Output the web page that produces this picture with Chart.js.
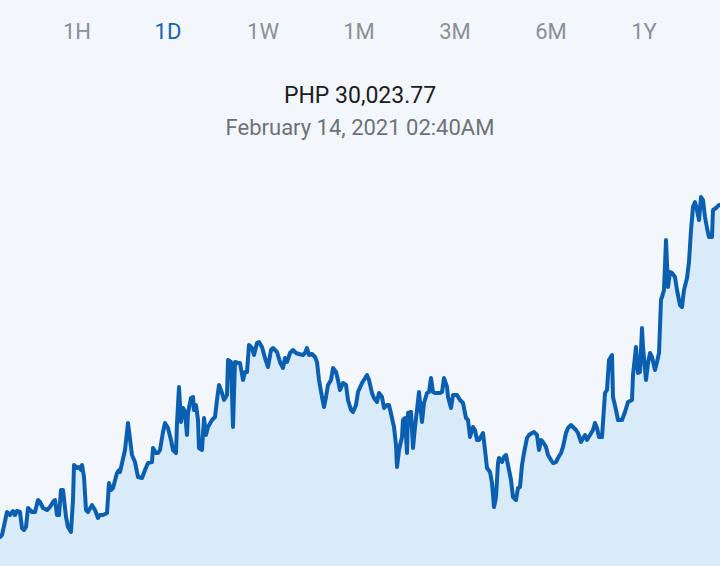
<!DOCTYPE html>
<html>
<head>
<meta charset="utf-8">
<script src="https://cdn.jsdelivr.net/npm/chart.js@4.4.1/dist/chart.umd.min.js"></script>
<style>
    html, body { margin: 0; padding: 0; }
    body {
        width: 720px;
        height: 566px;
        background: #f3f7fb;
        font-family: Roboto, 'Noto Sans', sans-serif;
        position: relative;
        overflow: hidden;
    }
    .tab {
        position: absolute;
        top: 17px;
        transform: translateX(-50%);
        font-size: 22px;
        color: #8b9097;
        line-height: 30px;
    }
    .tab.active { color: #1463b3; }
    #price {
        position: absolute;
        top: 81px;
        width: 720px;
        text-align: center;
        font-size: 23px;
        color: #1b1c1e;
        line-height: 30px;
    }
    #stamp {
        position: absolute;
        top: 113px;
        width: 720px;
        text-align: center;
        font-size: 22px;
        color: #6d7279;
        line-height: 30px;
    }
    #priceChart { position: absolute; left: 0; top: 150px; }
</style>
</head>
<body>
<div id="tabs"></div>
<div id="price"></div>
<div id="stamp"></div>
<canvas id="priceChart" width="720" height="416"></canvas>
<script>
const RANGE_TABS = ['1H', '1D', '1W', '1M', '3M', '6M', '1Y'];
const ACTIVE_TAB = '1D';
const CURRENT_PRICE = 'PHP 30,023.77';
const CURRENT_TIME = 'February 14, 2021 02:40AM';

// minutes since 02:40AM the day before
const minutes = [
    0, 4, 14, 20, 26, 30, 34, 40, 44, 48, 52, 56, 64, 70, 76, 80, 86, 94, 100, 106, 110, 114, 118, 122, 126,
    132, 136, 142, 146, 148, 154, 158, 162, 164, 168, 172, 176, 184, 190, 196, 200, 206, 214, 218, 222, 226, 234, 238,
    240, 250, 256, 264, 270, 276, 284, 290, 296, 304, 306, 312, 316, 320, 326, 330, 336, 342, 346, 352,
    354, 358, 362, 366, 370, 374, 376, 382, 386, 388, 392, 396, 398, 404, 408, 412, 416, 424, 430, 434,
    438, 444, 448, 454, 456, 462, 466, 470, 476,
    480, 486, 490, 494, 498, 504, 508, 514, 518, 524, 530, 536, 542, 546, 554, 560, 566, 570, 574, 580,
    586, 592, 598, 606, 610, 614, 618, 624, 630, 634, 638, 644, 648, 652, 656, 662, 666, 672, 676, 680,
    686, 692, 696, 702, 706, 712, 716,
    724, 734, 738, 744, 748, 754, 758, 764, 768, 774, 778, 784, 788, 792, 794, 798, 804, 806, 810, 814,
    816, 822, 826, 830, 834, 838, 844, 848, 854, 858, 862, 866, 870, 874, 880, 884, 888, 894, 896, 902,
    906, 914, 920, 926, 932, 936, 940, 946, 950, 954, 958,
    966, 970, 974, 980, 984, 988, 992, 996, 998, 1004, 1008, 1012, 1016, 1022, 1026, 1032, 1036, 1040, 1044, 1048,
    1054, 1058, 1064, 1068, 1074, 1078, 1082, 1086, 1092, 1096, 1102, 1106, 1112, 1116, 1122, 1126, 1132, 1136, 1142, 1146,
    1152, 1156, 1162, 1166, 1170, 1174, 1180, 1186, 1190, 1194, 1198,
    1204, 1210, 1214, 1218, 1224, 1226, 1232, 1236, 1244, 1250, 1256, 1264, 1266, 1272, 1276, 1280, 1284, 1286, 1292, 1296,
    1300, 1304, 1310, 1314, 1318, 1322, 1324, 1328, 1332, 1336, 1340, 1344, 1350, 1354, 1360, 1364, 1368, 1374, 1378, 1382,
    1386, 1390, 1394, 1398, 1402, 1406, 1410, 1414, 1418, 1424, 1426, 1432, 1438, 1440,
];

const prices = [
    28696, 28704, 28796, 28784, 28800, 28784, 28800, 28796, 28732, 28724, 28736, 28812, 28796, 28796, 28844, 28836, 28812, 28804, 28816, 28836, 28844, 28784, 28784, 28884, 28884,
    28776, 28736, 28716, 28844, 28984, 28972, 28976, 28964, 28984, 28936, 28804, 28796, 28824, 28804, 28772, 28784, 28784, 28792, 28912, 28884, 28892, 28952, 28964,
    28956, 29044, 29152, 29024, 28996, 28936, 28932, 28964, 28992, 28996, 29052, 29032, 29032, 29044, 29116, 29152, 29132, 29084, 29044, 29032,
    29152, 29296, 29156, 29212, 29196, 29104, 29192, 29252, 29256, 29204, 29224, 29164, 29052, 29044, 29172, 29104, 29136, 29164, 29176, 29244,
    29304, 29272, 29244, 29264, 29404, 29396, 29136, 29396, 29392,
    29392, 29324, 29356, 29356, 29464, 29452, 29424, 29472, 29476, 29456, 29412, 29376, 29444, 29452, 29436, 29396, 29372, 29412, 29396, 29432,
    29444, 29432, 29428, 29424, 29432, 29452, 29424, 29428, 29416, 29396, 29324, 29256, 29216, 29256, 29304, 29324, 29372, 29356, 29324, 29284,
    29312, 29304, 29244, 29204, 29196, 29224, 29276,
    29312, 29344, 29324, 29272, 29252, 29236, 29272, 29256, 29212, 29224, 29224, 29172, 29136, 29064, 28976, 29044, 29096, 29164, 29172, 29032,
    29192, 29196, 29052, 29136, 29204, 29276, 29156, 29232, 29272, 29276, 29332, 29276, 29272, 29272, 29272, 29276, 29332, 29296, 29256, 29212,
    29264, 29264, 29244, 29232, 29172, 29164, 29096, 29136, 29124, 29084, 29084,
    29112, 29044, 28972, 28956, 28912, 28816, 28856, 28992, 29012, 28996, 29016, 29024, 28984, 28924, 28856, 28844, 28892, 28896, 28984, 29032,
    29092, 29104, 29112, 29116, 29104, 29044, 29084, 29076, 29056, 29024, 29004, 28992, 28996, 29012, 29032, 29056, 29112, 29132, 29144, 29136,
    29124, 29112, 29076, 29092, 29104, 29084, 29104, 29124, 29152, 29132, 29096,
    29096, 29272, 29284, 29404, 29424, 29256, 29204, 29164, 29164, 29196, 29236, 29244, 29344, 29456, 29352, 29356, 29532, 29456, 29324, 29392,
    29432, 29416, 29364, 29396, 29432, 29644, 29656, 29684, 29884, 29696, 29756, 29752, 29736, 29684, 29624, 29616, 29684, 29732, 29796, 29924,
    30016, 30036, 30004, 29964, 30056, 30044, 29976, 29932, 29896, 29896, 30004, 30012, 30024, 30023.77,
];

const TAB_CENTERS = [77, 168, 263, 359, 455, 551, 644];

const tabsEl = document.getElementById('tabs');
RANGE_TABS.forEach((label, i) => {
    const el = document.createElement('div');
    el.className = 'tab' + (label === ACTIVE_TAB ? ' active' : '');
    el.style.left = TAB_CENTERS[i] + 'px';
    el.textContent = label;
    tabsEl.appendChild(el);
});
document.getElementById('price').textContent = CURRENT_PRICE;
document.getElementById('stamp').textContent = CURRENT_TIME;

const ctx = document.getElementById('priceChart').getContext('2d');
new Chart(ctx, {
    type: 'line',
    data: {
        datasets: [{
            data: minutes.map((m, i) => ({ x: m, y: prices[i] })),
            borderColor: '#0b5fb1',
            borderWidth: 4,
            borderJoinStyle: 'round',
            borderCapStyle: 'round',
            backgroundColor: '#d9eaf8',
            fill: 'start',
            pointRadius: 0,
            tension: 0,
        }],
    },
    options: {
        responsive: false,
        animation: false,
        devicePixelRatio: 1,
        layout: { padding: 0 },
        plugins: {
            legend: { display: false },
            tooltip: { enabled: false },
        },
        scales: {
            x: { type: 'linear', min: 0, max: 1440, display: false },
            y: { min: 28580, max: 30244, display: false },
        },
    },
});
</script>
</body>
</html>
